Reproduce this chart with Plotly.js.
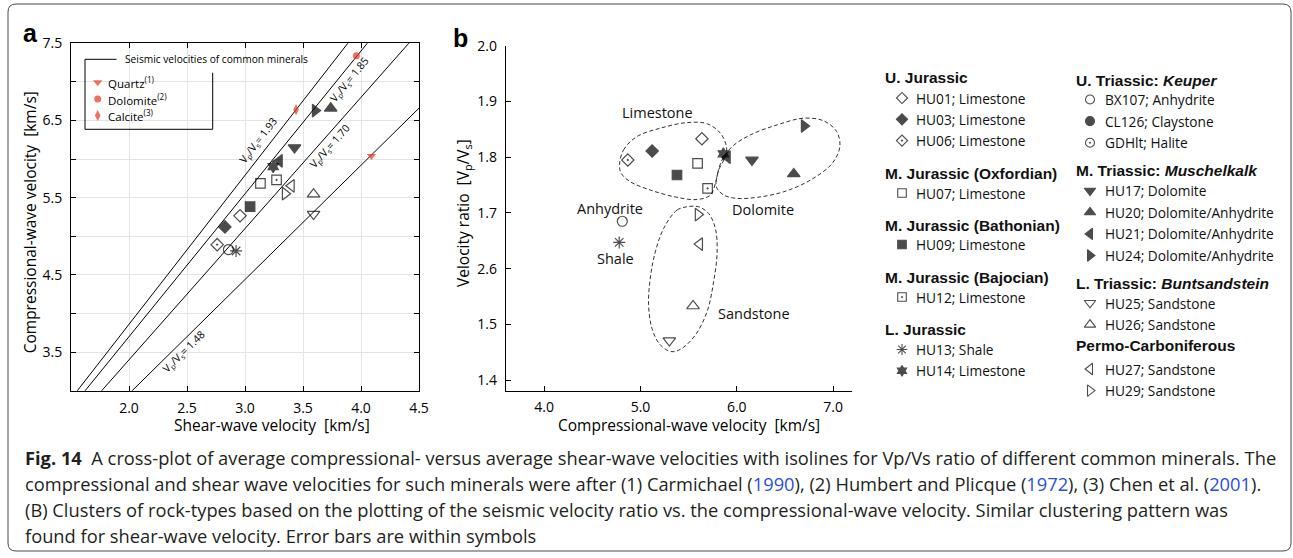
<!DOCTYPE html>
<html>
<head>
<meta charset="utf-8">
<script src="https://cdn.plot.ly/plotly-3.0.1.min.js"></script>
<style>
  html, body { margin: 0; padding: 0; background: #fff; }
  #fig { width: 1293px; height: 558px; }
</style>
</head>
<body>
<div id="fig"></div>
<script>
// ---- Sample data -------------------------------------------------------
const sampleIds = ['HU01','HU03','HU06','HU07','HU09','HU12','HU13','HU14','BX107',
                   'HU17','HU20','HU21','HU24','HU25','HU26','HU27','HU29'];
// Panel a: average shear-wave (Vs) and compressional-wave (Vp) velocity, km/s
const vsA = [2.957, 2.827, 2.760, 3.133, 3.044, 3.272, 2.923, 3.243, 2.857,
             3.427, 3.739, 3.297, 3.605, 3.591, 3.591, 3.400, 3.346];
const vpA = [5.265, 5.122, 4.892, 5.685, 5.384, 5.730, 4.810, 5.902, 4.828,
             6.149, 6.658, 5.978, 6.628, 5.287, 5.546, 5.654, 5.552];
// Panel b: compressional-wave velocity (km/s) and Vp/Vs ratio
const vpB = [5.638, 5.121, 4.868, 5.593, 5.379, 5.697, 4.779, 5.861, 4.811,
             6.158, 6.592, 5.903, 6.700, 5.300, 5.546, 5.615, 5.598];
const ratioB = [1.833, 1.811, 1.795, 1.789, 1.768, 1.744, 1.647, 1.806, 1.685,
                1.795, 1.770, 1.800, 1.856, 1.471, 1.533, 1.644, 1.697];

// Reference minerals
const mineralNames = ['Quartz', 'Dolomite', 'Calcite'];
const mineralRefs = ['(1)', '(2)', '(3)'];
const mineralVs = [4.09, 3.96, 3.44];
const mineralVp = [6.04, 7.34, 6.64];

// Vp/Vs isolines
const isoRatios = [1.93, 1.85, 1.70, 1.48];

// Axis ranges and ticks
const rangeAx = [1.5, 4.5];
const rangeAy = [3.0, 7.5];
const ticksAx = [2.0, 2.5, 3.0, 3.5, 4.0, 4.5];
const tickLabelsAx = ['2.0', '2.5', '3.0', '3.5', '4.0', '4.5'];
const minorTicksAx = [1.5];
const ticksAy = [3.5, 4.5, 5.5, 6.5, 7.5];
const tickLabelsAy = ['3.5', '4.5', '5.5', '6.5', '7.5'];
const minorTicksAy = [3.0, 4.0, 5.0, 6.0, 7.0];
const ticksBx = [4, 5, 6, 7];
const tickLabelsBx = ['4.0', '5.0', '6.0', '7.0'];
const ticksBy = [1.4, 1.5, 1.6, 1.7, 1.8, 1.9, 2.0];
const tickLabelsBy = ['1.4', '1.5', '2.6', '1.7', '1.8', '1.9', '2.0'];

// Rock-type cluster outlines (Vp, Vp/Vs)
const limestoneVp = [4.782, 4.824, 4.963, 5.206, 5.483, 5.692, 5.830, 5.893, 5.882, 5.812,
                     5.778, 5.726, 5.588, 5.379, 5.102, 4.893, 4.800, 4.782];
const limestoneRatio = [1.786, 1.813, 1.837, 1.852, 1.862, 1.860, 1.843, 1.819, 1.801, 1.777,
                        1.753, 1.732, 1.724, 1.728, 1.741, 1.756, 1.771, 1.786];
const dolomiteVp = [5.788, 5.802, 5.848, 5.952, 6.142, 6.420, 6.697, 6.905, 7.037, 7.071,
                    6.992, 6.766, 6.489, 6.212, 6.004, 5.864, 5.788];
const dolomiteRatio = [1.747, 1.771, 1.795, 1.819, 1.840, 1.858, 1.870, 1.865, 1.846, 1.819,
                       1.789, 1.759, 1.738, 1.728, 1.726, 1.732, 1.747];
const sandstoneVp = [5.483, 5.379, 5.240, 5.154, 5.102, 5.084, 5.119, 5.206, 5.327, 5.431,
                     5.570, 5.692, 5.760, 5.796, 5.778, 5.708, 5.604, 5.483];
const sandstoneRatio = [1.711, 1.705, 1.672, 1.630, 1.583, 1.535, 1.493, 1.463, 1.451, 1.457,
                        1.481, 1.523, 1.577, 1.630, 1.672, 1.699, 1.711, 1.711];

// Legend groups (stratigraphic unit -> samples; lithology)
const legendCol1 = [
  {title: 'U. Jurassic', items: [['HU01', 'Limestone'], ['HU03', 'Limestone'], ['HU06', 'Limestone']]},
  {title: 'M. Jurassic (Oxfordian)', items: [['HU07', 'Limestone']]},
  {title: 'M. Jurassic (Bathonian)', items: [['HU09', 'Limestone']]},
  {title: 'M. Jurassic (Bajocian)', items: [['HU12', 'Limestone']]},
  {title: 'L. Jurassic', items: [['HU13', 'Shale'], ['HU14', 'Limestone']]}
];
const legendCol2 = [
  {title: 'U. Triassic: <i>Keuper</i>', items: [['BX107', 'Anhydrite'], ['CL126', 'Claystone'], ['GDHlt', 'Halite']]},
  {title: 'M. Triassic: <i>Muschelkalk</i>', items: [['HU17', 'Dolomite'], ['HU20', 'Dolomite/Anhydrite'], ['HU21', 'Dolomite/Anhydrite'], ['HU24', 'Dolomite/Anhydrite']]},
  {title: 'L. Triassic: <i>Buntsandstein</i>', items: [['HU25', 'Sandstone'], ['HU26', 'Sandstone']]},
  {title: 'Permo-Carboniferous', items: [['HU27', 'Sandstone'], ['HU29', 'Sandstone']]}
];

// ---- Styling -----------------------------------------------------------
const W = 1293, H = 558;
const FONT = 'Open Sans, Noto Sans, sans-serif';
const BOLD = 'Liberation Sans, Arial, sans-serif';
const RED = '#e4361f';

const symbolOf = {
  HU01: 'diamond-open', HU03: 'diamond', HU06: 'diamond-open-dot',
  HU07: 'square-open', HU09: 'square', HU12: 'square-open-dot',
  HU13: 'asterisk-open', HU14: 'hexagram',
  BX107: 'circle-open', CL126: 'circle', GDHlt: 'circle-open-dot',
  HU17: 'triangle-down', HU20: 'triangle-up', HU21: 'triangle-left', HU24: 'triangle-right',
  HU25: 'triangle-down-open', HU26: 'triangle-up-open', HU27: 'triangle-left-open', HU29: 'triangle-right-open'
};
function sizeOf(sym, scale) {
  let s = 10;
  if (sym.startsWith('diamond')) s = 9.5;
  else if (sym.startsWith('square')) s = 9.5;
  else if (sym.startsWith('triangle')) s = 11;
  else if (sym.startsWith('circle')) s = 10;
  else if (sym.startsWith('hexagram')) s = 9;
  else if (sym.startsWith('asterisk')) s = 10;
  return s * (scale || 1);
}

// plot areas in page pixels
const boxA = {l: 71, r: 419, t: 43.3, b: 390.7};
const boxB = {l: 505.7, r: 852.3, t: 45.7, b: 390.7};
const domX = b => [b.l / W, b.r / W];
const domY = b => [1 - b.b / H, 1 - b.t / H];

const traces = [];

// Isolines Vp = r * Vs
isoRatios.forEach(r => {
  traces.push({
    x: [rangeAx[0], rangeAx[1]],
    y: [r * rangeAx[0], r * rangeAx[1]],
    mode: 'lines', line: {color: '#000', width: 1},
    xaxis: 'x', yaxis: 'y', hoverinfo: 'skip', showlegend: false
  });
});

// Minerals
const mineralSymbols = ['triangle-down', 'circle', 'diamond-tall'];
traces.push({
  x: mineralVs, y: mineralVp, mode: 'markers',
  marker: {color: RED, symbol: mineralSymbols, size: [8, 7, 8], line: {width: 0}},
  xaxis: 'x', yaxis: 'y', showlegend: false, hoverinfo: 'skip'
});

const symsData = sampleIds.map(id => symbolOf[id]);
function sampleTrace(xs, ys, xa, ya) {
  return {
    x: xs, y: ys, mode: 'markers',
    marker: {
      symbol: symsData, size: symsData.map(s => sizeOf(s)),
      color: '#000', line: {color: '#000', width: 1.2}
    },
    xaxis: xa, yaxis: ya, showlegend: false, hoverinfo: 'skip'
  };
}
traces.push(sampleTrace(vsA, vpA, 'x', 'y'));

// Cluster outlines
[[limestoneVp, limestoneRatio], [dolomiteVp, dolomiteRatio], [sandstoneVp, sandstoneRatio]].forEach(([xs, ys]) => {
  traces.push({
    x: xs, y: ys, mode: 'lines',
    line: {color: '#333', width: 1, dash: '4px,2.5px', shape: 'spline', smoothing: 1},
    xaxis: 'x2', yaxis: 'y2', showlegend: false, hoverinfo: 'skip'
  });
});
traces.push(sampleTrace(vpB, ratioB, 'x2', 'y2'));

// ---- Legends (page-pixel overlay axes x3/y3) ----------------------------
const annotations = [];
const legendX = [], legendY = [], legendSym = [], legendSize = [];

function addLegendColumn(groups, headerX, markerX, textX, headerYs, firstOffsets, step) {
  groups.forEach((g, gi) => {
    const hy = headerYs[gi];
    annotations.push({
      xref: 'x3', yref: 'y3', x: headerX, y: hy, xanchor: 'left', yanchor: 'middle',
      text: '<b>' + g.title + '</b>', showarrow: false,
      font: {family: BOLD, size: 15.5, color: '#111'}
    });
    g.items.forEach((it, ii) => {
      const y = hy + firstOffsets[gi] + ii * step;
      legendX.push(markerX); legendY.push(y);
      legendSym.push(symbolOf[it[0]]); legendSize.push(sizeOf(symbolOf[it[0]], 0.9));
      annotations.push({
        xref: 'x3', yref: 'y3', x: textX, y: y, xanchor: 'left', yanchor: 'middle',
        text: it[0] + '; ' + it[1], showarrow: false,
        font: {family: FONT, size: 13.7, color: '#111'}
      });
    });
  });
}
addLegendColumn(legendCol1, 883, 902, 914, [77.5, 173.5, 225, 277.5, 329], [20.5, 19.5, 19.5, 19.5, 20.5], 21.3);
addLegendColumn(legendCol2, 1074, 1090, 1103, [80, 170, 283, 345.5], [19.5, 20.7, 20, 23.5], 21.6);

traces.push({
  x: legendX, y: legendY, mode: 'markers',
  marker: {symbol: legendSym, size: legendSize, color: '#000', line: {color: '#000', width: 1.1}},
  xaxis: 'x3', yaxis: 'y3', showlegend: false, hoverinfo: 'skip', cliponaxis: false
});

// Mineral legend inside panel a
const minLegY = [82.3, 99, 115.5];
traces.push({
  x: mineralNames.map(() => 97.7), y: minLegY, mode: 'markers',
  marker: {color: RED, symbol: mineralSymbols, size: [8, 7, 8], line: {width: 0}},
  xaxis: 'x3', yaxis: 'y3', showlegend: false, hoverinfo: 'skip', cliponaxis: false
});
mineralNames.forEach((n, i) => {
  annotations.push({
    xref: 'x3', yref: 'y3', x: 106, y: minLegY[i], xanchor: 'left', yanchor: 'middle',
    text: n + '<sup>' + mineralRefs[i] + '</sup>', showarrow: false,
    font: {family: FONT, size: 11.5, color: '#000'}
  });
});
annotations.push({
  xref: 'x3', yref: 'y3', x: 122.5, y: 59, xanchor: 'left', yanchor: 'middle',
  text: 'Seismic velocities of common minerals', showarrow: false,
  font: {family: FONT, size: 10.2, color: '#000'}
});

// Isoline labels, rotated along each line
const pxPerVs = (boxA.r - boxA.l) / (rangeAx[1] - rangeAx[0]);
const pxPerVp = (boxA.b - boxA.t) / (rangeAy[1] - rangeAy[0]);
const isoLabelPos = [[3.118, 6.235], [3.905, 7.025], [3.730, 6.165], [2.476, 3.505]];
isoRatios.forEach((r, i) => {
  const ang = Math.atan(r * pxPerVp / pxPerVs) * 180 / Math.PI;
  annotations.push({
    xref: 'x', yref: 'y', x: isoLabelPos[i][0], y: isoLabelPos[i][1],
    text: 'V<sub>p</sub>/V<sub>s</sub>= ' + r.toFixed(2), showarrow: false,
    textangle: -ang, font: {family: FONT, size: 10.5, color: '#000'}
  });
});

// Cluster labels in panel b
[['Limestone', 5.178, 1.880], ['Dolomite', 6.270, 1.707], ['Anhydrite', 4.685, 1.708],
 ['Shale', 4.737, 1.619], ['Sandstone', 6.177, 1.519]].forEach(([t, x, y]) => {
  annotations.push({xref: 'x2', yref: 'y2', x: x, y: y, text: t, showarrow: false,
                    font: {family: FONT, size: 14.5, color: '#111'}});
});

// Axis titles
const axisTitle = (t, x, y, ang) => ({
  xref: 'x3', yref: 'y3', x: x, y: y, text: t, showarrow: false, textangle: ang || 0,
  font: {family: FONT, size: 15.5, color: '#000'}
});
annotations.push(axisTitle('Shear-wave velocity &nbsp;[km/s]', 271.7, 425));
annotations.push(axisTitle('Compressional-wave velocity &nbsp;[km/s]', 30, 222.3, -90));
annotations.push(axisTitle('Compressional-wave velocity &nbsp;[km/s]', 688.7, 425));
annotations.push(axisTitle('Velocity ratio &nbsp;[V<sub>p</sub>/V<sub>s</sub>]', 463.3, 212.7, -90));

// Panel letters
annotations.push({xref: 'x3', yref: 'y3', x: 30, y: 33, text: '<b>a</b>', showarrow: false,
                  font: {family: BOLD, size: 25, color: '#000'}});
annotations.push({xref: 'x3', yref: 'y3', x: 460.5, y: 38, text: '<b>b</b>', showarrow: false,
                  font: {family: BOLD, size: 25, color: '#000'}});

// Caption
const blue = t => '<span style="color:#2b50d6">' + t + '</span>';
const captionLines = [
  '<b>Fig. 14</b>&nbsp; A cross-plot of average compressional- versus average shear-wave velocities with isolines for Vp/Vs ratio of different common minerals. The',
  'compressional and shear wave velocities for such minerals were after (1) Carmichael (' + blue('1990') + '), (2) Humbert and Plicque (' + blue('1972') + '), (3) Chen et al. (' + blue('2001') + ').',
  '(B) Clusters of rock-types based on the plotting of the seismic velocity ratio vs. the compressional-wave velocity. Similar clustering pattern was',
  'found for shear-wave velocity. Error bars are within symbols'
];
captionLines.forEach((t, i) => {
  annotations.push({
    xref: 'x3', yref: 'y3', x: 23, y: 457 + i * 26, xanchor: 'left', yanchor: 'middle',
    text: t, showarrow: false, font: {family: FONT, size: 18.3, color: '#231f20'}
  });
});

// ---- Shapes: mineral legend frame, figure border -------------------------
const shapes = [
  {type: 'line', xref: 'x3', yref: 'y3', x0: 85, y0: 59.3, x1: 116.5, y1: 59.3, line: {color: '#000', width: 1}},
  {type: 'line', xref: 'x3', yref: 'y3', x0: 85, y0: 59.3, x1: 85, y1: 129.3, line: {color: '#000', width: 1}},
  {type: 'line', xref: 'x3', yref: 'y3', x0: 85, y0: 129.3, x1: 212.7, y1: 129.3, line: {color: '#000', width: 1}},
  {type: 'line', xref: 'x3', yref: 'y3', x0: 212.7, y0: 72.7, x1: 212.7, y1: 129.3, line: {color: '#000', width: 1}},
  {type: 'path', xref: 'x3', yref: 'y3',
   path: 'M 16 4 L 1283 4 Q 1291 4 1291 12 L 1291 543 Q 1291 551 1283 551 L 16 551 Q 8 551 8 543 L 8 12 Q 8 4 16 4 Z',
   line: {color: '#4a4a4a', width: 1}, fillcolor: 'rgba(0,0,0,0)', layer: 'below'}
];

const tickFont = {family: FONT, size: 14, color: '#000'};
const GRID = '#e4e4e4';
const minorA = vals => ({tickmode: 'array', tickvals: vals, ticks: 'inside', ticklen: 5,
                         tickcolor: '#000', tickwidth: 1, showgrid: true, gridcolor: GRID, gridwidth: 1});
const layout = {
  width: W, height: H,
  margin: {l: 0, r: 0, t: 0, b: 0, pad: 0},
  paper_bgcolor: '#fff', plot_bgcolor: 'rgba(0,0,0,0)',
  showlegend: false,
  xaxis: {
    domain: domX(boxA), anchor: 'y', range: rangeAx,
    tickmode: 'array', tickvals: ticksAx, ticktext: tickLabelsAx, minor: minorA(minorTicksAx),
    ticks: 'inside', ticklen: 5, tickcolor: '#000', tickwidth: 1,
    showline: true, linecolor: '#000', linewidth: 1, mirror: 'allticks',
    showgrid: true, gridcolor: GRID, gridwidth: 1, zeroline: false,
    tickfont: tickFont, ticklabelstandoff: 4, fixedrange: true
  },
  yaxis: {
    domain: domY(boxA), anchor: 'x', range: rangeAy,
    tickmode: 'array', tickvals: ticksAy, ticktext: tickLabelsAy, minor: minorA(minorTicksAy),
    ticks: 'inside', ticklen: 5, tickcolor: '#000', tickwidth: 1,
    showline: true, linecolor: '#000', linewidth: 1, mirror: 'allticks',
    showgrid: true, gridcolor: GRID, gridwidth: 1, zeroline: false,
    tickfont: tickFont, ticklabelstandoff: 5, fixedrange: true
  },
  xaxis2: {
    domain: domX(boxB), anchor: 'y2', range: [3.6, 7.2],
    tickmode: 'array', tickvals: ticksBx, ticktext: tickLabelsBx,
    ticks: 'inside', ticklen: 5, tickcolor: '#000', tickwidth: 1,
    showline: true, linecolor: '#000', linewidth: 1, mirror: false,
    showgrid: false, zeroline: false, tickfont: tickFont, ticklabelstandoff: 3, fixedrange: true
  },
  yaxis2: {
    domain: domY(boxB), anchor: 'x2', range: [1.381, 2.0],
    tickmode: 'array', tickvals: ticksBy, ticktext: tickLabelsBy,
    ticks: 'inside', ticklen: 5, tickcolor: '#000', tickwidth: 1,
    showline: true, linecolor: '#000', linewidth: 1, mirror: false,
    showgrid: false, zeroline: false, tickfont: tickFont, ticklabelstandoff: 5, fixedrange: true
  },
  xaxis3: {domain: [0, 1], anchor: 'y3', range: [0, W], visible: false, fixedrange: true},
  yaxis3: {domain: [0, 1], anchor: 'x3', range: [H, 0], visible: false, fixedrange: true},
  annotations: annotations,
  shapes: shapes
};

Plotly.newPlot('fig', traces, layout, {staticPlot: true, displayModeBar: false});
</script>
</body>
</html>
